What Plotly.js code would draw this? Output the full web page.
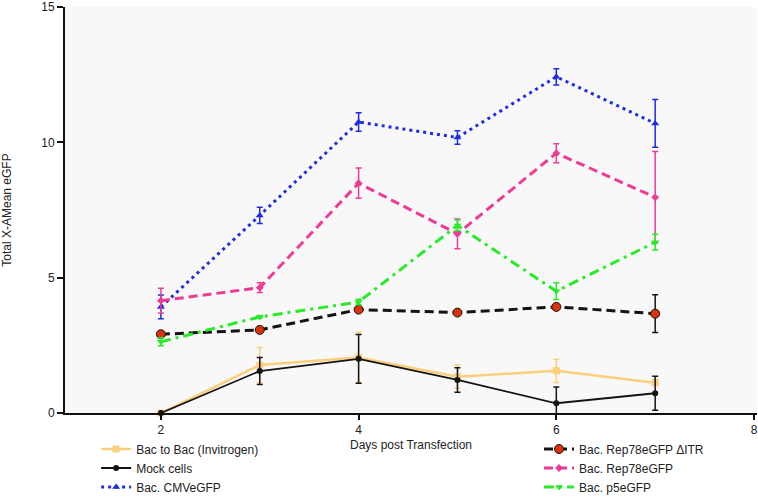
<!DOCTYPE html>
<html>
<head>
<meta charset="utf-8">
<script src="https://cdn.plot.ly/plotly-3.0.1.min.js"></script>
<style>
body { margin: 0; background: #fff; }
#chart { width: 758px; height: 500px; }
</style>
</head>
<body>
<div id="chart"></div>
<script>
// days post transfection
var days = [2, 3, 4, 5, 6, 7];

var bacToBac = [0, 1.77, 2.05, 1.34, 1.56, 1.12];
var bacToBacErr = [0, 0.65, 0.92, 0.43, 0.43, 0.1];

var mockCells = [0, 1.55, 2.0, 1.22, 0.36, 0.73];
var mockCellsErr = [0, 0.5, 0.9, 0.45, 0.6, 0.63];

var cmvEgfp = [3.92, 7.3, 10.75, 10.18, 12.42, 10.7];
var cmvEgfpErr = [0.44, 0.3, 0.34, 0.25, 0.3, 0.88];

var rep78Itr = [2.91, 3.07, 3.82, 3.71, 3.92, 3.67];
var rep78ItrErr = [0.05, 0.05, 0.05, 0.05, 0.1, 0.7];

var rep78 = [4.15, 4.63, 8.49, 6.62, 9.6, 7.97];
var rep78Err = [0.46, 0.18, 0.56, 0.55, 0.35, 1.69];

var p5 = [2.63, 3.55, 4.1, 6.93, 4.5, 6.31];
var p5Err = [0.15, 0.05, 0.1, 0.2, 0.31, 0.29];

var xTicks = [2, 4, 6, 8];
var yTicks = [0, 5, 10, 15];

function series(name, y, err, color, dash, width, symbol, size, leg, mcolor) {
    return {
        x: days,
        y: y,
        name: name,
        legend: leg,
        type: 'scatter',
        mode: 'lines+markers',
        cliponaxis: false,
        line: {color: color, dash: dash, width: width},
        marker: {
            symbol: symbol,
            size: size,
            color: mcolor || color,
            line: {color: color, width: mcolor ? 1 : 0}
        },
        error_y: {type: 'data', array: err, visible: true, color: color, thickness: 1.5, width: 3}
    };
}

var data = [
    series('Bac to Bac (Invitrogen)', bacToBac, bacToBacErr, 'rgb(250,206,122)', 'solid', 2.5, 'square', 7, 'legend'),
    series('Mock cells', mockCells, mockCellsErr, 'rgb(20,20,20)', 'solid', 1.8, 'circle', 6, 'legend'),
    series('Bac. CMVeGFP', cmvEgfp, cmvEgfpErr, 'rgb(30,45,225)', '3px,4px', 3, 'triangle-up', 7, 'legend'),
    series('Bac. Rep78eGFP \u0394ITR', rep78Itr, rep78ItrErr, 'rgb(20,20,20)', '9px,5px', 3, 'circle', 9, 'legend2', 'rgb(220,50,10)'),
    series('Bac. Rep78eGFP', rep78, rep78Err, 'rgb(238,60,150)', '9px,5px', 3, 'diamond', 6, 'legend2'),
    series('Bac. p5eGFP', p5, p5Err, 'rgb(40,235,40)', '10px,5px,3px,5px', 3, 'triangle-down', 7, 'legend2')
];

var legendBase = {
    orientation: 'v',
    xanchor: 'left',
    y: -0.053,
    yanchor: 'top',
    tracegroupgap: 0,
    itemwidth: 30,
    font: {size: 12},
    bgcolor: 'rgba(0,0,0,0)'
};

var layout = {
    width: 758,
    height: 500,
    margin: {t: 7, b: 87, l: 65, r: 1, autoexpand: false},
    paper_bgcolor: '#ffffff',
    plot_bgcolor: '#f8f8f8',
    font: {family: 'Liberation Sans, Arial, sans-serif', size: 11, color: '#222'},
    showlegend: true,
    legend: Object.assign({}, legendBase, {x: 0.045}),
    legend2: Object.assign({}, legendBase, {x: 0.685}),
    xaxis: {
        range: [1.03, 8.03],
        tickvals: xTicks,
        ticktext: xTicks.map(String),
        ticks: 'outside',
        ticklen: 5,
        tickwidth: 2,
        tickcolor: '#111',
        showline: true,
        linecolor: '#111',
        linewidth: 2,
        showgrid: false,
        zeroline: false,
        tickfont: {size: 12},
        title: {text: 'Days post Transfection', font: {size: 12}, standoff: 4}
    },
    yaxis: {
        range: [0, 15],
        tickvals: yTicks,
        ticktext: yTicks.map(String),
        ticks: 'outside',
        ticklen: 6,
        tickwidth: 2,
        tickcolor: '#111',
        showline: true,
        linecolor: '#111',
        linewidth: 2,
        showgrid: false,
        zeroline: false,
        tickfont: {size: 12},
        title: {text: 'Total X-AMean eGFP', font: {size: 12}, standoff: 28}
    }
};

Plotly.newPlot('chart', data, layout, {displayModeBar: false, staticPlot: true});
</script>
</body>
</html>
